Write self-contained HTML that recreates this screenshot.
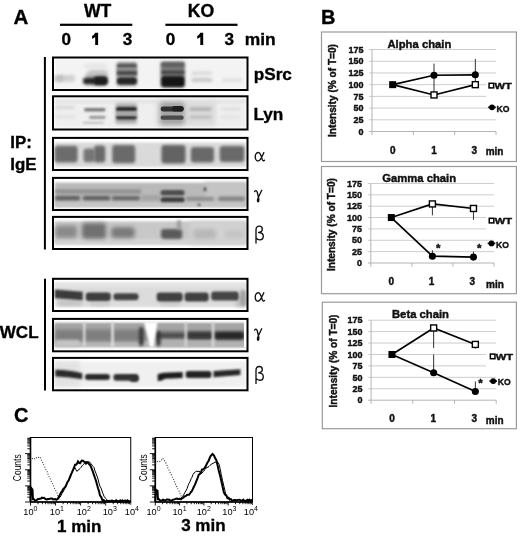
<!DOCTYPE html>
<html><head><meta charset="utf-8"><style>
html,body{margin:0;padding:0;background:#fff;width:520px;height:536px;overflow:hidden}
svg{display:block;will-change:transform}
text{font-family:"Liberation Sans",sans-serif}
.b{font-weight:bold}
.ct text,text.ct{stroke:#111;stroke-width:0.42px}
.hv text,text.hv{stroke:#000;stroke-width:0.35px}
text.g,.g text{font-family:"Liberation Serif",serif}
</style></head><body>
<svg width="520" height="536" viewBox="0 0 520 536">
<defs>
<filter id="f1" x="-30%" y="-60%" width="160%" height="220%"><feGaussianBlur stdDeviation="1.2"/></filter>
<filter id="f2" x="-30%" y="-60%" width="160%" height="220%"><feGaussianBlur stdDeviation="2"/></filter>
<filter id="f3" x="-10%" y="-30%" width="120%" height="160%"><feGaussianBlur stdDeviation="1"/></filter>
<filter id="fs" x="-5%" y="-5%" width="110%" height="110%"><feGaussianBlur stdDeviation="0.4"/></filter>
<filter id="b5" filterUnits="userSpaceOnUse" x="0" y="0" width="520" height="536"><feGaussianBlur stdDeviation="0.6"/></filter>
<filter id="b8" filterUnits="userSpaceOnUse" x="0" y="0" width="520" height="536"><feGaussianBlur stdDeviation="0.9"/></filter>
<filter id="b10" filterUnits="userSpaceOnUse" x="0" y="0" width="520" height="536"><feGaussianBlur stdDeviation="1.1"/></filter>
<filter id="b12" filterUnits="userSpaceOnUse" x="0" y="0" width="520" height="536"><feGaussianBlur stdDeviation="1.3"/></filter>
<filter id="b13" filterUnits="userSpaceOnUse" x="0" y="0" width="520" height="536"><feGaussianBlur stdDeviation="1.4"/></filter>
<filter id="b15" filterUnits="userSpaceOnUse" x="0" y="0" width="520" height="536"><feGaussianBlur stdDeviation="1.6"/></filter>
<filter id="b16" filterUnits="userSpaceOnUse" x="0" y="0" width="520" height="536"><feGaussianBlur stdDeviation="1.7"/></filter>
<filter id="b18" filterUnits="userSpaceOnUse" x="0" y="0" width="520" height="536"><feGaussianBlur stdDeviation="1.9"/></filter>
<filter id="b20" filterUnits="userSpaceOnUse" x="0" y="0" width="520" height="536"><feGaussianBlur stdDeviation="2.1"/></filter>
<filter id="b25" filterUnits="userSpaceOnUse" x="0" y="0" width="520" height="536"><feGaussianBlur stdDeviation="2.6"/></filter>
</defs>
<g class="hv"><text x="13.5" y="24" class="b" font-size="20.5">A</text>
<text x="97.7" y="17.3" class="b" font-size="17.6" text-anchor="middle">WT</text>
<text x="201" y="17.3" class="b" font-size="17.6" text-anchor="middle">KO</text>
<rect x="60" y="23.7" width="72.3" height="2.2" fill="#000"/>
<rect x="165.4" y="23.7" width="72.1" height="2.2" fill="#000"/>
<g class="b" font-size="17.1" text-anchor="middle">
<text x="66.2" y="45.2">0</text>
<text x="127.4" y="45.2">3</text>
<text x="170.5" y="45.2">0</text>
<text x="229.3" y="45.2">3</text>
</g>
<path d="M95.2,32.8 L98.1,32.8 L98.1,45.1 L95.2,45.1 L95.2,36.9 Q94,38 92.1,38.7 L92.1,36 Q94.3,35 95.2,32.8 Z" fill="#000"/>
<path d="M95.2,32.8 L98.1,32.8 L98.1,45.1 L95.2,45.1 L95.2,36.9 Q94,38 92.1,38.7 L92.1,36 Q94.3,35 95.2,32.8 Z" transform="translate(105.1,0)" fill="#000"/>
<text x="244.8" y="45.2" class="b" font-size="17.4">min</text>
<rect x="43.9" y="57" width="2" height="192.5" fill="#000"/>
<rect x="44" y="278.75" width="2" height="111.75" fill="#000"/>
<text x="10.3" y="147.9" class="b" font-size="16.9">IP:</text>
<text x="10.3" y="169.6" class="b" font-size="16.9">IgE</text>
<text x="-0.2" y="338.3" class="b" font-size="17">WCL</text>
<rect x="55" y="59" width="191" height="29.5" rx="0" fill="#f3f3f3" filter="url(#b10)"/>
<rect x="55" y="75" width="20" height="7" rx="3" fill="#d2d2d2" filter="url(#b16)"/>
<rect x="55" y="75.5" width="9" height="6" rx="3" fill="#c0c0c0" filter="url(#b16)"/>
<rect x="88" y="70" width="19.5" height="8" rx="3" fill="#c2c2c2" filter="url(#b18)"/>
<rect x="86" y="72.4" width="21" height="5.1" rx="2.55" fill="#c4c4c4" filter="url(#b16)"/>
<rect x="84" y="63.8" width="23" height="4.2" rx="2.1" fill="#e6e6e6" filter="url(#b16)"/>
<rect x="83" y="77.6" width="24.4" height="6.9" rx="3" fill="#252525" filter="url(#b13)"/>
<rect x="94" y="76.5" width="13.4" height="8.5" rx="3" fill="#1a1a1a" filter="url(#b13)"/>
<rect x="116.5" y="62" width="20.5" height="24" rx="2" fill="#a0a0a0" filter="url(#b13)"/>
<rect x="117" y="63.8" width="19.8" height="4.3" rx="2.15" fill="#5a5a5a" filter="url(#b10)"/>
<rect x="117" y="68" width="19.8" height="9" rx="3" fill="#8a8a8a" filter="url(#b10)"/>
<rect x="117" y="71.2" width="19.8" height="3.5" rx="1.75" fill="#444" filter="url(#b10)"/>
<rect x="117" y="77.6" width="19.8" height="6.9" rx="3" fill="#262626" filter="url(#b10)"/>
<rect x="160.5" y="61.5" width="24.5" height="26" rx="2" fill="#7a7a7a" filter="url(#b13)"/>
<rect x="161.5" y="62.7" width="22.7" height="4.3" rx="2.15" fill="#606060" filter="url(#b10)"/>
<rect x="161.5" y="70.4" width="22.7" height="3.9" rx="1.95" fill="#4a4a4a" filter="url(#b10)"/>
<rect x="161.5" y="76.2" width="22.7" height="10.6" rx="3" fill="#151515" filter="url(#b10)"/>
<rect x="191.3" y="71.5" width="21.2" height="3.5" rx="1.75" fill="#dadada" filter="url(#b13)"/>
<rect x="191.3" y="78" width="21.2" height="4" rx="2" fill="#c8c8c8" filter="url(#b13)"/>
<rect x="222" y="78" width="20.3" height="4" rx="2" fill="#e2e2e2" filter="url(#b13)"/>
<rect x="55" y="98.5" width="191" height="29" rx="0" fill="#efefef" filter="url(#b10)"/>
<rect x="55" y="100" width="191" height="3" rx="0" fill="#e2e2e2" filter="url(#b16)"/>
<rect x="156" y="101" width="60" height="25" rx="3" fill="#dcdcdc" filter="url(#b20)"/>
<rect x="55" y="106.3" width="20" height="2.4" rx="1.2" fill="#d2d2d2" filter="url(#b13)"/>
<rect x="55" y="115.4" width="20" height="2.4" rx="1.2" fill="#dcdcdc" filter="url(#b13)"/>
<rect x="84" y="108" width="21.6" height="3.4" rx="1.7" fill="#7a7a7a" filter="url(#b10)"/>
<rect x="89" y="115.8" width="16.6" height="3.1" rx="1.55" fill="#9c9c9c" filter="url(#b10)"/>
<rect x="83" y="122" width="21" height="1.6" rx="0.8" fill="#b0b0b0" filter="url(#b8)"/>
<rect x="115.5" y="103" width="21.5" height="21" rx="2" fill="#b4b4b4" filter="url(#b16)"/>
<rect x="116" y="107.1" width="20.8" height="4.3" rx="2.15" fill="#252525" filter="url(#b10)"/>
<rect x="116" y="115.4" width="20.8" height="4.2" rx="2.1" fill="#333" filter="url(#b10)"/>
<rect x="116" y="111.4" width="20.8" height="4" rx="2" fill="#a8a8a8" filter="url(#b10)"/>
<rect x="160" y="102" width="24.5" height="23" rx="3" fill="#a4a4a4" filter="url(#b18)"/>
<rect x="160.6" y="106.6" width="23.1" height="4.8" rx="2.4" fill="#303030" filter="url(#b11)"/>
<rect x="172" y="106" width="11.7" height="5.6" rx="2.8" fill="#1e1e1e" filter="url(#b11)"/>
<rect x="160.6" y="115.6" width="23.1" height="4.2" rx="2.1" fill="#4a4a4a" filter="url(#b11)"/>
<rect x="189.4" y="107.5" width="22.1" height="3.3" rx="1.65" fill="#acacac" filter="url(#b13)"/>
<rect x="189.4" y="115.5" width="22.1" height="3.3" rx="1.65" fill="#bcbcbc" filter="url(#b13)"/>
<rect x="221" y="107.5" width="20" height="3" rx="1.5" fill="#dcdcdc" filter="url(#b13)"/>
<rect x="221" y="115.5" width="20" height="3" rx="1.5" fill="#e0e0e0" filter="url(#b13)"/>
<rect x="55" y="142.5" width="191" height="24.5" rx="0" fill="#dadada" filter="url(#b10)"/>
<rect x="54.6" y="145.8" width="23" height="16.8" rx="3" fill="#6c6c6c" filter="url(#b16)"/>
<rect x="83.5" y="148.5" width="11.5" height="13.7" rx="3" fill="#767676" filter="url(#b16)"/>
<rect x="94" y="145.5" width="11.3" height="17.1" rx="3" fill="#6a6a6a" filter="url(#b16)"/>
<rect x="112.2" y="145" width="23" height="18.3" rx="3" fill="#6a6a6a" filter="url(#b16)"/>
<rect x="161.4" y="145" width="24.1" height="18.4" rx="3" fill="#646464" filter="url(#b16)"/>
<rect x="190.8" y="147" width="23.2" height="15.6" rx="3" fill="#696969" filter="url(#b16)"/>
<rect x="219.7" y="146" width="24.6" height="16" rx="3" fill="#696969" filter="url(#b16)"/>
<rect x="55" y="182.6" width="191" height="24.2" rx="0" fill="#b9b9b9" filter="url(#b10)"/>
<rect x="55" y="201" width="191" height="5.8" rx="0" fill="#c6c6c6" filter="url(#b13)"/>
<rect x="205" y="182.6" width="41" height="17.4" rx="0" fill="#c4c4c4" filter="url(#b20)"/>
<rect x="55" y="189.5" width="86" height="4" rx="1" fill="#8c8c8c" filter="url(#b16)"/>
<rect x="55" y="196" width="25" height="4.3" rx="1" fill="#5a5a5a" filter="url(#b13)"/>
<rect x="83" y="196" width="27" height="4.3" rx="1" fill="#585858" filter="url(#b13)"/>
<rect x="112" y="196.2" width="28" height="4.1" rx="1" fill="#5e5e5e" filter="url(#b13)"/>
<rect x="141" y="195" width="19" height="6" rx="1" fill="#a4a4a4" filter="url(#b16)"/>
<rect x="160.6" y="189.9" width="24" height="5.6" rx="2.8" fill="#4e4e4e" filter="url(#b12)"/>
<rect x="160.6" y="197.2" width="24" height="5.1" rx="2.55" fill="#3e3e3e" filter="url(#b12)"/>
<rect x="186" y="197" width="28" height="3.8" rx="1.9" fill="#8a8a8a" filter="url(#b13)"/>
<rect x="218" y="196.8" width="27" height="4" rx="2" fill="#7c7c7c" filter="url(#b13)"/>
<rect x="203.5" y="187" width="3" height="4.5" rx="2.25" fill="#555" filter="url(#b8)"/>
<rect x="197.5" y="203.5" width="3" height="2.5" rx="1.25" fill="#555" filter="url(#b8)"/>
<rect x="55" y="221.3" width="191" height="23" rx="0" fill="#c8c8c8" filter="url(#b10)"/>
<rect x="55" y="239" width="191" height="5.3" rx="0" fill="#d4d4d4" filter="url(#b13)"/>
<rect x="190" y="221.3" width="56" height="23" rx="0" fill="#d2d2d2" filter="url(#b20)"/>
<rect x="55" y="225.5" width="22" height="12.5" rx="3" fill="#8a8a8a" filter="url(#b18)"/>
<rect x="82" y="223" width="24" height="15.8" rx="3" fill="#707070" filter="url(#b18)"/>
<rect x="111.2" y="227" width="23.5" height="11" rx="3" fill="#7a7a7a" filter="url(#b18)"/>
<rect x="161" y="229" width="21.2" height="10" rx="3" fill="#5a5a5a" filter="url(#b15)"/>
<rect x="177" y="220" width="4" height="10" rx="3" fill="#9a9a9a" filter="url(#b13)"/>
<rect x="193" y="229" width="23" height="10" rx="3" fill="#b8b8b8" filter="url(#b18)"/>
<rect x="225" y="230" width="18" height="8" rx="3" fill="#c4c4c4" filter="url(#b18)"/>
<rect x="55" y="282.9" width="191" height="24.2" rx="0" fill="#dcdcdc" filter="url(#b10)"/>
<rect x="55" y="282.9" width="191" height="4.1" rx="0" fill="#e6e6e6" filter="url(#b13)"/>
<rect x="58" y="300" width="24" height="6" rx="3" fill="#c4c4c4" filter="url(#b16)"/>
<rect x="90" y="301" width="20" height="5" rx="2.5" fill="#cacaca" filter="url(#b16)"/>
<rect x="160" y="300" width="20" height="6" rx="3" fill="#cccccc" filter="url(#b16)"/>
<rect x="235" y="296" width="11" height="11" rx="3" fill="#c8c8c8" filter="url(#b16)"/>
<path d="M54.8,289.6 L82.8,291.8 L82.8,300.2 L54.8,298.2 Z" fill="#3a3a3a" filter="url(#b10)"/>
<rect x="85.7" y="292.6" width="25.1" height="8.3" rx="3" fill="#3e3e3e" filter="url(#b10)"/>
<rect x="113.4" y="293.2" width="25.1" height="7.1" rx="3" fill="#434343" filter="url(#b10)"/>
<rect x="156.7" y="292.6" width="26" height="9" rx="3" fill="#404040" filter="url(#b10)"/>
<rect x="184.6" y="292.6" width="24.1" height="9" rx="3" fill="#404040" filter="url(#b10)"/>
<rect x="211.2" y="291.6" width="27.6" height="9" rx="3" fill="#444" filter="url(#b10)"/>
<rect x="240" y="290" width="6" height="16" rx="3" fill="#a0a0a0" filter="url(#b13)"/>
<rect x="55" y="323.5" width="191" height="23" rx="0" fill="#989898" filter="url(#b8)"/>
<rect x="55" y="323.5" width="191" height="6.5" rx="0" fill="#a6a6a6" filter="url(#b13)"/>
<rect x="55" y="341" width="191" height="5.5" rx="0" fill="#bcbcbc" filter="url(#b13)"/>
<rect x="55" y="330" width="89" height="11" rx="1" fill="#7e7e7e" filter="url(#b20)"/>
<rect x="157" y="331.5" width="87" height="7.5" rx="1" fill="#6e6e6e" filter="url(#b16)"/>
<rect x="55" y="340" width="25" height="6.5" rx="3" fill="#c4c4c4" filter="url(#b16)"/>
<rect x="156" y="340" width="88" height="6.5" rx="1" fill="#b0b0b0" filter="url(#b16)"/>
<rect x="187" y="332" width="26" height="7" rx="3" fill="#383838" filter="url(#b13)"/>
<rect x="214.4" y="332" width="29.6" height="7.5" rx="3" fill="#262626" filter="url(#b13)"/>
<rect x="156.7" y="333.5" width="28.3" height="4" rx="2" fill="#505050" filter="url(#b10)"/>
<rect x="156.5" y="331" width="4" height="15" rx="3" fill="#303030" filter="url(#b13)"/>
<rect x="139" y="327" width="4.5" height="19" rx="3" fill="#3a3a3a" filter="url(#b13)"/>
<path d="M83.1,322 L85.4,322 L85.4,347 L83.1,347 Z" fill="#dedede" filter="url(#b8)"/>
<path d="M111.2,322 L113.9,322 L113.9,347 L111.2,347 Z" fill="#dedede" filter="url(#b8)"/>
<path d="M144,322 L157.5,322 L153.5,347 L150,347 Z" fill="#fff" filter="url(#b8)"/>
<path d="M184.8,322 L186.9,322 L186.9,347 L184.8,347 Z" fill="#dadada" filter="url(#b8)"/>
<path d="M211.8,322 L214.2,322 L214.2,347 L211.8,347 Z" fill="#dadada" filter="url(#b8)"/>
<path d="M244,322 L247,322 L247,347 L244,347 Z" fill="#fff" filter="url(#b5)"/>
<rect x="55" y="361.5" width="191" height="25.5" rx="0" fill="#f0f0f0" filter="url(#b10)"/>
<rect x="55" y="361.5" width="25" height="25.5" rx="0" fill="#e2e2e2" filter="url(#b20)"/>
<path d="M55.3,369.8 Q70,370.2 82.3,373.2 L82.3,379.2 Q70,376.8 55.3,376.4 Z" fill="#2a2a2a" filter="url(#b10)"/>
<rect x="84.9" y="374.1" width="25.1" height="5.9" rx="2.95" fill="#2c2c2c" filter="url(#b10)"/>
<rect x="113.4" y="374.1" width="25.1" height="6.7" rx="3" fill="#303030" filter="url(#b10)"/>
<rect x="130" y="376" width="8.5" height="5.8" rx="2.9" fill="#303030" filter="url(#b10)"/>
<path d="M157.7,374.2 Q160,372.7 170,372.4 L182.7,371.9 L182.7,377.9 L165,378.8 Q160,381.8 157.7,380.8 Z" fill="#1c1c1c" filter="url(#b10)"/>
<rect x="185.6" y="371.1" width="25.9" height="6.8" rx="3" fill="#222" filter="url(#b10)"/>
<path d="M213.5,371.1 L240.4,369.2 L240.4,375 L213.5,377.3 Z" fill="#262626" filter="url(#b10)"/>
<rect x="53" y="57.5" width="194.5" height="32.5" fill="none" stroke="#000" stroke-width="2"/>
<rect x="53" y="96.3" width="194.5" height="33.2" fill="none" stroke="#000" stroke-width="2"/>
<rect x="53" y="137.9" width="194.5" height="32.1" fill="none" stroke="#000" stroke-width="2"/>
<rect x="53" y="177.9" width="194.5" height="32.1" fill="none" stroke="#000" stroke-width="2"/>
<rect x="53" y="216.9" width="194.5" height="32.1" fill="none" stroke="#000" stroke-width="2"/>
<rect x="53" y="278.8" width="194.5" height="32.2" fill="none" stroke="#000" stroke-width="2"/>
<rect x="53" y="318.9" width="194.5" height="32.4" fill="none" stroke="#000" stroke-width="2"/>
<rect x="53" y="357.9" width="194.5" height="32.4" fill="none" stroke="#000" stroke-width="2"/>
<g class="b" font-size="17.2"><text x="253.7" y="79.9">pSrc</text><text x="253.4" y="119.6">Lyn</text></g>
<path d="M263.8,152.6 C262.6,155.2 261.4,158.6 259.5,160.2 C257.5,161.8 255.2,160.6 255.2,156.7 C255.2,153.2 257.4,152.2 258.8,152.6 C261,153.3 261.6,158 262.4,159.8 C263,161 263.8,161 264.5,160.3" transform="translate(0,0)" fill="none" stroke="#111" stroke-width="1.35" stroke-linecap="round" stroke-linejoin="round"/>
<path d="M254.6,191.6 Q256,189.6 257.2,192 L258.4,197.2 M261.7,190.3 L258.4,197.2 C257.6,199 257.2,201.5 258.1,201.9 C258.9,201.9 259.1,199 258.4,197.2" transform="translate(0,0)" fill="none" stroke="#111" stroke-width="1.35" stroke-linecap="round" stroke-linejoin="round"/>
<path d="M256,243 L256,230 C256,227.2 257.7,226.1 259.3,226.1 C261.3,226.1 262.3,227.5 262.3,229.2 C262.3,231.3 260.7,232.3 258.6,232.5 C261.8,232.6 263.3,234.2 263.3,236.3 C263.3,238.6 261.8,239.8 259.8,239.8 C258.2,239.8 256.9,239 256,238" transform="translate(0,0)" fill="none" stroke="#111" stroke-width="1.35" stroke-linecap="round" stroke-linejoin="round"/>
<path d="M263.8,152.6 C262.6,155.2 261.4,158.6 259.5,160.2 C257.5,161.8 255.2,160.6 255.2,156.7 C255.2,153.2 257.4,152.2 258.8,152.6 C261,153.3 261.6,158 262.4,159.8 C263,161 263.8,161 264.5,160.3" transform="translate(0,140.2)" fill="none" stroke="#111" stroke-width="1.35" stroke-linecap="round" stroke-linejoin="round"/>
<path d="M254.6,191.6 Q256,189.6 257.2,192 L258.4,197.2 M261.7,190.3 L258.4,197.2 C257.6,199 257.2,201.5 258.1,201.9 C258.9,201.9 259.1,199 258.4,197.2" transform="translate(0,138.5)" fill="none" stroke="#111" stroke-width="1.35" stroke-linecap="round" stroke-linejoin="round"/>
<path d="M256,243 L256,230 C256,227.2 257.7,226.1 259.3,226.1 C261.3,226.1 262.3,227.5 262.3,229.2 C262.3,231.3 260.7,232.3 258.6,232.5 C261.8,232.6 263.3,234.2 263.3,236.3 C263.3,238.6 261.8,239.8 259.8,239.8 C258.2,239.8 256.9,239 256,238" transform="translate(0,140.4)" fill="none" stroke="#111" stroke-width="1.35" stroke-linecap="round" stroke-linejoin="round"/>
<text x="321" y="24" class="b" font-size="20">B</text>
</g>
<g class="ct">
<rect x="321.5" y="32" width="194.9" height="129.5" fill="#fff" stroke="#9a9a9a" stroke-width="1.2"/>
<line x1="369" y1="119.79" x2="496" y2="119.79" stroke="#cdcdcd" stroke-width="1"/>
<line x1="369" y1="108.08" x2="496" y2="108.08" stroke="#cdcdcd" stroke-width="1"/>
<line x1="369" y1="96.37" x2="486" y2="96.37" stroke="#cdcdcd" stroke-width="1"/>
<line x1="369" y1="84.66" x2="486" y2="84.66" stroke="#cdcdcd" stroke-width="1"/>
<line x1="369" y1="72.95" x2="496" y2="72.95" stroke="#cdcdcd" stroke-width="1"/>
<line x1="369" y1="61.24" x2="496" y2="61.24" stroke="#cdcdcd" stroke-width="1"/>
<line x1="369" y1="49.53" x2="496" y2="49.53" stroke="#cdcdcd" stroke-width="1"/>
<line x1="372" y1="49.53" x2="372" y2="131.5" stroke="#b4b4b4" stroke-width="1"/>
<line x1="369" y1="131.5" x2="496" y2="131.5" stroke="#b4b4b4" stroke-width="1"/>
<line x1="372" y1="131.5" x2="372" y2="135" stroke="#b4b4b4" stroke-width="1"/>
<line x1="413.33" y1="131.5" x2="413.33" y2="135" stroke="#b4b4b4" stroke-width="1"/>
<line x1="454.67" y1="131.5" x2="454.67" y2="135" stroke="#b4b4b4" stroke-width="1"/>
<line x1="496" y1="131.5" x2="496" y2="135" stroke="#b4b4b4" stroke-width="1"/>
<g class="b" font-size="9" text-anchor="end" fill="#111">
<text x="363.5" y="134.7">0</text>
<text x="363.5" y="122.99">25</text>
<text x="363.5" y="111.28">50</text>
<text x="363.5" y="99.57">75</text>
<text x="363.5" y="87.86">100</text>
<text x="363.5" y="76.15">125</text>
<text x="363.5" y="64.44">150</text>
<text x="363.5" y="52.73">175</text>
</g>
<text transform="translate(335.6,90.5) rotate(-90) scale(1.012,1)" class="b" font-size="10" text-anchor="middle" fill="#111">Intensity (% of T=0)</text>
<text x="387.5" y="47.5" class="b" font-size="11.25" fill="#111">Alpha chain</text>
<g class="b" font-size="10" text-anchor="middle" fill="#111">
<text x="392.87" y="153.6">0</text>
<text x="434.1" y="153.6">1</text>
<text x="474.23" y="153.6">3</text>
</g>
<text x="485.7" y="155" class="b" font-size="10" fill="#111">min</text>
<line x1="434" y1="63.58" x2="434" y2="94.96" stroke="#333" stroke-width="1"/>
<line x1="475.33" y1="58.9" x2="475.33" y2="84.66" stroke="#333" stroke-width="1"/>
<polyline points="392.67,84.66 434,94.96 475.33,84.66" fill="none" stroke="#000" stroke-width="1.65"/>
<polyline points="392.67,84.66 434,75.29 475.33,74.82" fill="none" stroke="#000" stroke-width="1.65"/>
<circle cx="434" cy="75.29" r="3.55" fill="#000"/>
<circle cx="475.33" cy="74.82" r="3.55" fill="#000"/>
<rect x="431" y="91.96" width="6" height="6" fill="#fff" stroke="#000" stroke-width="1.4"/>
<rect x="472.33" y="81.66" width="6" height="6" fill="#fff" stroke="#000" stroke-width="1.4"/>
<rect x="389.17" y="81.16" width="7" height="7" fill="#000"/>
<rect x="489.05" y="83.3" width="4.6" height="4.6" fill="#fff" stroke="#000" stroke-width="1.5"/>
<text x="494.45" y="89.3" class="b" font-size="9.6" fill="#111" textLength="17.3" lengthAdjust="spacingAndGlyphs">WT</text>
<line x1="488.2" y1="107.3" x2="495.8" y2="107.3" stroke="#000" stroke-width="1.6"/>
<circle cx="492" cy="107.3" r="2.9" fill="#000"/>
<text x="496.5" y="111.5" class="b" font-size="9.6" fill="#111" textLength="12.9" lengthAdjust="spacingAndGlyphs">KO</text>
</g>
<g class="ct">
<rect x="321.5" y="166.5" width="194.9" height="127.2" fill="#fff" stroke="#9a9a9a" stroke-width="1.2"/>
<line x1="367.8" y1="251.64" x2="494" y2="251.64" stroke="#cdcdcd" stroke-width="1"/>
<line x1="367.8" y1="240.28" x2="494" y2="240.28" stroke="#cdcdcd" stroke-width="1"/>
<line x1="367.8" y1="228.92" x2="486" y2="228.92" stroke="#cdcdcd" stroke-width="1"/>
<line x1="367.8" y1="217.56" x2="486" y2="217.56" stroke="#cdcdcd" stroke-width="1"/>
<line x1="367.8" y1="206.2" x2="494" y2="206.2" stroke="#cdcdcd" stroke-width="1"/>
<line x1="367.8" y1="194.84" x2="494" y2="194.84" stroke="#cdcdcd" stroke-width="1"/>
<line x1="367.8" y1="183.48" x2="494" y2="183.48" stroke="#cdcdcd" stroke-width="1"/>
<line x1="370.8" y1="183.48" x2="370.8" y2="263" stroke="#b4b4b4" stroke-width="1"/>
<line x1="367.8" y1="263" x2="494" y2="263" stroke="#b4b4b4" stroke-width="1"/>
<line x1="370.8" y1="263" x2="370.8" y2="266.5" stroke="#b4b4b4" stroke-width="1"/>
<line x1="411.87" y1="263" x2="411.87" y2="266.5" stroke="#b4b4b4" stroke-width="1"/>
<line x1="452.93" y1="263" x2="452.93" y2="266.5" stroke="#b4b4b4" stroke-width="1"/>
<line x1="494" y1="263" x2="494" y2="266.5" stroke="#b4b4b4" stroke-width="1"/>
<g class="b" font-size="9" text-anchor="end" fill="#111">
<text x="362" y="266.2">0</text>
<text x="362" y="254.84">25</text>
<text x="362" y="243.48">50</text>
<text x="362" y="232.12">75</text>
<text x="362" y="220.76">100</text>
<text x="362" y="209.4">125</text>
<text x="362" y="198.04">150</text>
<text x="362" y="186.68">175</text>
</g>
<text transform="translate(334.9,224.6) rotate(-90) scale(1.012,1)" class="b" font-size="10" text-anchor="middle" fill="#111">Intensity (% of T=0)</text>
<text x="382.3" y="181.8" class="b" font-size="11.25" fill="#111">Gamma chain</text>
<g class="b" font-size="10" text-anchor="middle" fill="#111">
<text x="391.33" y="285.4">0</text>
<text x="431.5" y="285.4">1</text>
<text x="472.17" y="285.4">3</text>
</g>
<text x="486" y="288.4" class="b" font-size="10" fill="#111">min</text>
<line x1="432.4" y1="203.93" x2="432.4" y2="215.29" stroke="#333" stroke-width="1"/>
<line x1="473.47" y1="208.47" x2="473.47" y2="219.83" stroke="#333" stroke-width="1"/>
<line x1="432.4" y1="256.18" x2="432.4" y2="250.28" stroke="#333" stroke-width="1"/>
<line x1="473.47" y1="257.09" x2="473.47" y2="251.64" stroke="#333" stroke-width="1"/>
<polyline points="391.33,217.56 432.4,203.93 473.47,208.47" fill="none" stroke="#000" stroke-width="1.65"/>
<polyline points="391.33,217.56 432.4,256.18 473.47,257.09" fill="none" stroke="#000" stroke-width="1.65"/>
<circle cx="432.4" cy="256.18" r="3.55" fill="#000"/>
<circle cx="473.47" cy="257.09" r="3.55" fill="#000"/>
<rect x="429.4" y="200.93" width="6" height="6" fill="#fff" stroke="#000" stroke-width="1.4"/>
<rect x="470.47" y="205.47" width="6" height="6" fill="#fff" stroke="#000" stroke-width="1.4"/>
<rect x="387.83" y="214.06" width="7" height="7" fill="#000"/>
<text x="438.2" y="251.5" class="b" font-size="11.5" text-anchor="middle" fill="#111">*</text>
<text x="479.2" y="252.3" class="b" font-size="11.5" text-anchor="middle" fill="#111">*</text>
<rect x="489.25" y="218.3" width="4.6" height="4.6" fill="#fff" stroke="#000" stroke-width="1.5"/>
<text x="494.65" y="224.3" class="b" font-size="9.6" fill="#111" textLength="17.3" lengthAdjust="spacingAndGlyphs">WT</text>
<line x1="487.7" y1="243.4" x2="495.3" y2="243.4" stroke="#000" stroke-width="1.6"/>
<circle cx="491.5" cy="243.4" r="2.9" fill="#000"/>
<text x="496" y="247.6" class="b" font-size="9.6" fill="#111" textLength="12.9" lengthAdjust="spacingAndGlyphs">KO</text>
</g>
<g class="ct">
<rect x="322.3" y="302.2" width="194.1" height="126.5" fill="#fff" stroke="#9a9a9a" stroke-width="1.2"/>
<line x1="368.1" y1="388.77" x2="496.2" y2="388.77" stroke="#cdcdcd" stroke-width="1"/>
<line x1="368.1" y1="377.34" x2="496.2" y2="377.34" stroke="#cdcdcd" stroke-width="1"/>
<line x1="368.1" y1="365.91" x2="486" y2="365.91" stroke="#cdcdcd" stroke-width="1"/>
<line x1="368.1" y1="354.48" x2="486" y2="354.48" stroke="#cdcdcd" stroke-width="1"/>
<line x1="368.1" y1="343.05" x2="496.2" y2="343.05" stroke="#cdcdcd" stroke-width="1"/>
<line x1="368.1" y1="331.62" x2="496.2" y2="331.62" stroke="#cdcdcd" stroke-width="1"/>
<line x1="368.1" y1="320.19" x2="496.2" y2="320.19" stroke="#cdcdcd" stroke-width="1"/>
<line x1="371.1" y1="320.19" x2="371.1" y2="400.2" stroke="#b4b4b4" stroke-width="1"/>
<line x1="368.1" y1="400.2" x2="496.2" y2="400.2" stroke="#b4b4b4" stroke-width="1"/>
<line x1="371.1" y1="400.2" x2="371.1" y2="403.7" stroke="#b4b4b4" stroke-width="1"/>
<line x1="412.8" y1="400.2" x2="412.8" y2="403.7" stroke="#b4b4b4" stroke-width="1"/>
<line x1="454.5" y1="400.2" x2="454.5" y2="403.7" stroke="#b4b4b4" stroke-width="1"/>
<line x1="496.2" y1="400.2" x2="496.2" y2="403.7" stroke="#b4b4b4" stroke-width="1"/>
<g class="b" font-size="9" text-anchor="end" fill="#111">
<text x="362.5" y="403.4">0</text>
<text x="362.5" y="391.97">25</text>
<text x="362.5" y="380.54">50</text>
<text x="362.5" y="369.11">75</text>
<text x="362.5" y="357.68">100</text>
<text x="362.5" y="346.25">125</text>
<text x="362.5" y="334.82">150</text>
<text x="362.5" y="323.39">175</text>
</g>
<text transform="translate(336.6,361) rotate(-90) scale(1.012,1)" class="b" font-size="10" text-anchor="middle" fill="#111">Intensity (% of T=0)</text>
<text x="392" y="317.9" class="b" font-size="11.25" fill="#111">Beta chain</text>
<g class="b" font-size="10" text-anchor="middle" fill="#111">
<text x="392.05" y="422.3">0</text>
<text x="433.25" y="422.3">1</text>
<text x="474.25" y="422.3">3</text>
</g>
<text x="485.8" y="424.2" class="b" font-size="10" fill="#111">min</text>
<line x1="433.65" y1="327.96" x2="433.65" y2="348.08" stroke="#333" stroke-width="1"/>
<line x1="433.65" y1="354.48" x2="433.65" y2="372.77" stroke="#333" stroke-width="1"/>
<line x1="475.35" y1="344.42" x2="475.35" y2="348.54" stroke="#333" stroke-width="1"/>
<line x1="475.35" y1="391.51" x2="475.35" y2="381.45" stroke="#333" stroke-width="1"/>
<polyline points="391.95,354.48 433.65,327.96 475.35,344.42" fill="none" stroke="#000" stroke-width="1.65"/>
<polyline points="391.95,354.48 433.65,372.77 475.35,391.51" fill="none" stroke="#000" stroke-width="1.65"/>
<circle cx="433.65" cy="372.77" r="3.55" fill="#000"/>
<circle cx="475.35" cy="391.51" r="3.55" fill="#000"/>
<rect x="430.65" y="324.96" width="6" height="6" fill="#fff" stroke="#000" stroke-width="1.4"/>
<rect x="472.35" y="341.42" width="6" height="6" fill="#fff" stroke="#000" stroke-width="1.4"/>
<rect x="388.45" y="350.98" width="7" height="7" fill="#000"/>
<text x="480.6" y="386.9" class="b" font-size="11.5" text-anchor="middle" fill="#111">*</text>
<rect x="490.35" y="354.1" width="4.6" height="4.6" fill="#fff" stroke="#000" stroke-width="1.5"/>
<text x="495.75" y="360.1" class="b" font-size="9.6" fill="#111" textLength="17.3" lengthAdjust="spacingAndGlyphs">WT</text>
<line x1="489.4" y1="381.1" x2="497" y2="381.1" stroke="#000" stroke-width="1.6"/>
<circle cx="493.2" cy="381.1" r="2.9" fill="#000"/>
<text x="497.7" y="385.3" class="b" font-size="9.6" fill="#111" textLength="12.9" lengthAdjust="spacingAndGlyphs">KO</text>
</g>
<text x="14" y="422.3" class="b hv" font-size="20">C</text>
<rect x="30.5" y="437.5" width="100.25" height="64.5" fill="none" stroke="#000" stroke-width="1"/>
<line x1="25" y1="502" x2="30.5" y2="502" stroke="#000" stroke-width="0.9"/>
<line x1="27.3" y1="497.15" x2="30.5" y2="497.15" stroke="#000" stroke-width="0.9"/>
<line x1="27.3" y1="494.31" x2="30.5" y2="494.31" stroke="#000" stroke-width="0.9"/>
<line x1="27.3" y1="492.29" x2="30.5" y2="492.29" stroke="#000" stroke-width="0.9"/>
<line x1="27.3" y1="490.73" x2="30.5" y2="490.73" stroke="#000" stroke-width="0.9"/>
<line x1="27.3" y1="489.45" x2="30.5" y2="489.45" stroke="#000" stroke-width="0.9"/>
<line x1="27.3" y1="488.37" x2="30.5" y2="488.37" stroke="#000" stroke-width="0.9"/>
<line x1="27.3" y1="487.44" x2="30.5" y2="487.44" stroke="#000" stroke-width="0.9"/>
<line x1="27.3" y1="486.61" x2="30.5" y2="486.61" stroke="#000" stroke-width="0.9"/>
<line x1="25" y1="485.88" x2="30.5" y2="485.88" stroke="#000" stroke-width="0.9"/>
<line x1="27.3" y1="481.02" x2="30.5" y2="481.02" stroke="#000" stroke-width="0.9"/>
<line x1="27.3" y1="478.18" x2="30.5" y2="478.18" stroke="#000" stroke-width="0.9"/>
<line x1="27.3" y1="476.17" x2="30.5" y2="476.17" stroke="#000" stroke-width="0.9"/>
<line x1="27.3" y1="474.6" x2="30.5" y2="474.6" stroke="#000" stroke-width="0.9"/>
<line x1="27.3" y1="473.33" x2="30.5" y2="473.33" stroke="#000" stroke-width="0.9"/>
<line x1="27.3" y1="472.25" x2="30.5" y2="472.25" stroke="#000" stroke-width="0.9"/>
<line x1="27.3" y1="471.31" x2="30.5" y2="471.31" stroke="#000" stroke-width="0.9"/>
<line x1="27.3" y1="470.49" x2="30.5" y2="470.49" stroke="#000" stroke-width="0.9"/>
<line x1="25" y1="469.75" x2="30.5" y2="469.75" stroke="#000" stroke-width="0.9"/>
<line x1="27.3" y1="464.9" x2="30.5" y2="464.9" stroke="#000" stroke-width="0.9"/>
<line x1="27.3" y1="462.06" x2="30.5" y2="462.06" stroke="#000" stroke-width="0.9"/>
<line x1="27.3" y1="460.04" x2="30.5" y2="460.04" stroke="#000" stroke-width="0.9"/>
<line x1="27.3" y1="458.48" x2="30.5" y2="458.48" stroke="#000" stroke-width="0.9"/>
<line x1="27.3" y1="457.2" x2="30.5" y2="457.2" stroke="#000" stroke-width="0.9"/>
<line x1="27.3" y1="456.12" x2="30.5" y2="456.12" stroke="#000" stroke-width="0.9"/>
<line x1="27.3" y1="455.19" x2="30.5" y2="455.19" stroke="#000" stroke-width="0.9"/>
<line x1="27.3" y1="454.36" x2="30.5" y2="454.36" stroke="#000" stroke-width="0.9"/>
<line x1="25" y1="453.62" x2="30.5" y2="453.62" stroke="#000" stroke-width="0.9"/>
<line x1="27.3" y1="448.77" x2="30.5" y2="448.77" stroke="#000" stroke-width="0.9"/>
<line x1="27.3" y1="445.93" x2="30.5" y2="445.93" stroke="#000" stroke-width="0.9"/>
<line x1="27.3" y1="443.92" x2="30.5" y2="443.92" stroke="#000" stroke-width="0.9"/>
<line x1="27.3" y1="442.35" x2="30.5" y2="442.35" stroke="#000" stroke-width="0.9"/>
<line x1="27.3" y1="441.08" x2="30.5" y2="441.08" stroke="#000" stroke-width="0.9"/>
<line x1="27.3" y1="440" x2="30.5" y2="440" stroke="#000" stroke-width="0.9"/>
<line x1="27.3" y1="439.06" x2="30.5" y2="439.06" stroke="#000" stroke-width="0.9"/>
<line x1="27.3" y1="438.24" x2="30.5" y2="438.24" stroke="#000" stroke-width="0.9"/>
<line x1="30.5" y1="502" x2="30.5" y2="505.5" stroke="#000" stroke-width="0.9"/>
<line x1="38.04" y1="502" x2="38.04" y2="504.2" stroke="#000" stroke-width="0.9"/>
<line x1="42.46" y1="502" x2="42.46" y2="504.2" stroke="#000" stroke-width="0.9"/>
<line x1="45.59" y1="502" x2="45.59" y2="504.2" stroke="#000" stroke-width="0.9"/>
<line x1="48.02" y1="502" x2="48.02" y2="504.2" stroke="#000" stroke-width="0.9"/>
<line x1="50" y1="502" x2="50" y2="504.2" stroke="#000" stroke-width="0.9"/>
<line x1="51.68" y1="502" x2="51.68" y2="504.2" stroke="#000" stroke-width="0.9"/>
<line x1="53.13" y1="502" x2="53.13" y2="504.2" stroke="#000" stroke-width="0.9"/>
<line x1="54.42" y1="502" x2="54.42" y2="504.2" stroke="#000" stroke-width="0.9"/>
<line x1="55.56" y1="502" x2="55.56" y2="505.5" stroke="#000" stroke-width="0.9"/>
<line x1="63.11" y1="502" x2="63.11" y2="504.2" stroke="#000" stroke-width="0.9"/>
<line x1="67.52" y1="502" x2="67.52" y2="504.2" stroke="#000" stroke-width="0.9"/>
<line x1="70.65" y1="502" x2="70.65" y2="504.2" stroke="#000" stroke-width="0.9"/>
<line x1="73.08" y1="502" x2="73.08" y2="504.2" stroke="#000" stroke-width="0.9"/>
<line x1="75.06" y1="502" x2="75.06" y2="504.2" stroke="#000" stroke-width="0.9"/>
<line x1="76.74" y1="502" x2="76.74" y2="504.2" stroke="#000" stroke-width="0.9"/>
<line x1="78.2" y1="502" x2="78.2" y2="504.2" stroke="#000" stroke-width="0.9"/>
<line x1="79.48" y1="502" x2="79.48" y2="504.2" stroke="#000" stroke-width="0.9"/>
<line x1="80.62" y1="502" x2="80.62" y2="505.5" stroke="#000" stroke-width="0.9"/>
<line x1="88.17" y1="502" x2="88.17" y2="504.2" stroke="#000" stroke-width="0.9"/>
<line x1="92.58" y1="502" x2="92.58" y2="504.2" stroke="#000" stroke-width="0.9"/>
<line x1="95.71" y1="502" x2="95.71" y2="504.2" stroke="#000" stroke-width="0.9"/>
<line x1="98.14" y1="502" x2="98.14" y2="504.2" stroke="#000" stroke-width="0.9"/>
<line x1="100.13" y1="502" x2="100.13" y2="504.2" stroke="#000" stroke-width="0.9"/>
<line x1="101.81" y1="502" x2="101.81" y2="504.2" stroke="#000" stroke-width="0.9"/>
<line x1="103.26" y1="502" x2="103.26" y2="504.2" stroke="#000" stroke-width="0.9"/>
<line x1="104.54" y1="502" x2="104.54" y2="504.2" stroke="#000" stroke-width="0.9"/>
<line x1="105.69" y1="502" x2="105.69" y2="505.5" stroke="#000" stroke-width="0.9"/>
<line x1="113.23" y1="502" x2="113.23" y2="504.2" stroke="#000" stroke-width="0.9"/>
<line x1="117.65" y1="502" x2="117.65" y2="504.2" stroke="#000" stroke-width="0.9"/>
<line x1="120.78" y1="502" x2="120.78" y2="504.2" stroke="#000" stroke-width="0.9"/>
<line x1="123.21" y1="502" x2="123.21" y2="504.2" stroke="#000" stroke-width="0.9"/>
<line x1="125.19" y1="502" x2="125.19" y2="504.2" stroke="#000" stroke-width="0.9"/>
<line x1="126.87" y1="502" x2="126.87" y2="504.2" stroke="#000" stroke-width="0.9"/>
<line x1="128.32" y1="502" x2="128.32" y2="504.2" stroke="#000" stroke-width="0.9"/>
<line x1="129.6" y1="502" x2="129.6" y2="504.2" stroke="#000" stroke-width="0.9"/>
<line x1="130.75" y1="502" x2="130.75" y2="505" stroke="#000" stroke-width="0.7"/>
<line x1="30.5" y1="437.5" x2="30.5" y2="502.5" stroke="#000" stroke-width="1.6"/>
<line x1="30.5" y1="502" x2="130.75" y2="502" stroke="#000" stroke-width="1.3"/>
<text x="23.3" y="514.6" font-size="9.2">10</text>
<text x="33.6" y="510.8" font-size="7">0</text>
<text x="49.8" y="514.6" font-size="9.2">10</text>
<text x="60.1" y="510.8" font-size="7">1</text>
<text x="76.7" y="514.6" font-size="9.2">10</text>
<text x="87" y="510.8" font-size="7">2</text>
<text x="102.7" y="514.6" font-size="9.2">10</text>
<text x="113" y="510.8" font-size="7">3</text>
<text x="124.8" y="514.6" font-size="9.2">10</text>
<text x="135.1" y="510.8" font-size="7">4</text>
<text transform="translate(20.9,467.75) rotate(-90) scale(0.8,1)" font-size="10.6" text-anchor="middle">Counts</text>
<polyline points="30.5,461 31.75,459.19 33,458.05 34,458.34 35,459.12 36,458.4 37,456.98 38,456.92 39,457.9 40,457.21 41,458.93 42,461.59 43,463.13 44,465.74 45,467.47 46,469.83 47,471.41 48,474.16 49,476.61 50,478.36 51,480.79 52,482.87 53,484.31 54,487.31 55,489.28 56,491.09 57,492.94 58,496.11 59,497.8 60,500" fill="none" stroke="#333" stroke-width="1.1" stroke-dasharray="1,1.6"/>
<polyline points="57.5,500 58.75,498.13 60,497.35 61,495.6 62,493.42 63,492 64,489.95 65,488.15 66,486.29 67,483.59 68,481.53 69,480.34 70,477.93 71,475.6 72,472.17 73,469.95 74,469.22 75,467.73 76,469.95 77,471.4 78,470.03 79,469.53 80,468.54 81,467.44 82,465.88 83,464.72 84,463.92 85,462.53 86,461.72 87,461.94 88,462 89,461.73 90,462.61 91,463.47 92,465.13 93,466.37 94,467.52 95,471 96,473.39 97,476.14 98,479.02 99,483.16 100,486.36 101,488.12 102,490.83 103,493.72 104,496.21 105.17,497.94 106.33,498.92 107.5,500.83 108.5,500.69 109.5,500.35 110.5,500.65 111.5,500.97 112.5,500.95 113.5,500.64 114.5,500.74 115.5,500.21 116.5,500.44 117.5,501.01 118.5,500.65 119.5,500.43 120.5,500.83 121.5,501.01 122.5,501 123.5,500.72 124.5,500.81 125.5,500.9 126.5,501.19 127.5,500.96 128.5,500.85 129.5,500.97 130.5,501" fill="none" stroke="#000" stroke-width="1"/>
<polyline points="30.5,501 31,487.73 32.5,489.72 33,499.29 34,499.34 35,500.54 36,500.38 37,499.9 38,498.94 39,499.04 40,498.67 41,498.5 42,497.7 43,498.01 44,497.83 45,498.61 46,499.29 47,499.47 48,499.07 49,499 50,498.8 51,498.51 52,498.58 53,499.36 54,499.21 55.17,499.14 56.33,499.79 57.5,499.04 58.75,497.1 60,494.58 61,492.57 62,491.39 63,489.42 64.12,488.14 65.25,487.05 66.38,484.65 67.5,481.99 68.67,480.3 69.83,477.31 71,474.38 72,472.4 73,469.92 74,467.71 75,464.77 76,464.77 77,463.74 78,461.46 79,462.91 80,463.34 81,461.69 82,460.55 83,460.73 84,461.68 85,462 86,463.53 87,462.27 88,462.61 89,464.14 90,464.94 91.25,467.61 92.5,470.67 93.75,474.36 95,477.98 96,480.89 97,484.39 98,488.32 99,490.97 100,495.65 101.25,497.13 102.5,500.66 103.67,500.03 104.83,501.4 106,501.33 107.02,501.01 108.04,501.03 109.06,501.24 110.08,501.14 111.1,500.7 112.12,500.53 113.15,501.02 114.17,501.69 115.19,501.2 116.21,500.32 117.23,501.51 118.25,501.36 119.27,501.65 120.29,500.51 121.31,501.39 122.33,500.29 123.35,501.24 124.38,500.64 125.4,500.56 126.42,501.6 127.44,500.37 128.46,501.04 129.48,501.57 130.5,501" fill="none" stroke="#000" stroke-width="2"/>
<text x="57" y="532" class="b hv" font-size="17">1 min</text>
<rect x="155.3" y="437.5" width="97.2" height="64.5" fill="none" stroke="#000" stroke-width="1"/>
<line x1="149.8" y1="502" x2="155.3" y2="502" stroke="#000" stroke-width="0.9"/>
<line x1="152.1" y1="497.15" x2="155.3" y2="497.15" stroke="#000" stroke-width="0.9"/>
<line x1="152.1" y1="494.31" x2="155.3" y2="494.31" stroke="#000" stroke-width="0.9"/>
<line x1="152.1" y1="492.29" x2="155.3" y2="492.29" stroke="#000" stroke-width="0.9"/>
<line x1="152.1" y1="490.73" x2="155.3" y2="490.73" stroke="#000" stroke-width="0.9"/>
<line x1="152.1" y1="489.45" x2="155.3" y2="489.45" stroke="#000" stroke-width="0.9"/>
<line x1="152.1" y1="488.37" x2="155.3" y2="488.37" stroke="#000" stroke-width="0.9"/>
<line x1="152.1" y1="487.44" x2="155.3" y2="487.44" stroke="#000" stroke-width="0.9"/>
<line x1="152.1" y1="486.61" x2="155.3" y2="486.61" stroke="#000" stroke-width="0.9"/>
<line x1="149.8" y1="485.88" x2="155.3" y2="485.88" stroke="#000" stroke-width="0.9"/>
<line x1="152.1" y1="481.02" x2="155.3" y2="481.02" stroke="#000" stroke-width="0.9"/>
<line x1="152.1" y1="478.18" x2="155.3" y2="478.18" stroke="#000" stroke-width="0.9"/>
<line x1="152.1" y1="476.17" x2="155.3" y2="476.17" stroke="#000" stroke-width="0.9"/>
<line x1="152.1" y1="474.6" x2="155.3" y2="474.6" stroke="#000" stroke-width="0.9"/>
<line x1="152.1" y1="473.33" x2="155.3" y2="473.33" stroke="#000" stroke-width="0.9"/>
<line x1="152.1" y1="472.25" x2="155.3" y2="472.25" stroke="#000" stroke-width="0.9"/>
<line x1="152.1" y1="471.31" x2="155.3" y2="471.31" stroke="#000" stroke-width="0.9"/>
<line x1="152.1" y1="470.49" x2="155.3" y2="470.49" stroke="#000" stroke-width="0.9"/>
<line x1="149.8" y1="469.75" x2="155.3" y2="469.75" stroke="#000" stroke-width="0.9"/>
<line x1="152.1" y1="464.9" x2="155.3" y2="464.9" stroke="#000" stroke-width="0.9"/>
<line x1="152.1" y1="462.06" x2="155.3" y2="462.06" stroke="#000" stroke-width="0.9"/>
<line x1="152.1" y1="460.04" x2="155.3" y2="460.04" stroke="#000" stroke-width="0.9"/>
<line x1="152.1" y1="458.48" x2="155.3" y2="458.48" stroke="#000" stroke-width="0.9"/>
<line x1="152.1" y1="457.2" x2="155.3" y2="457.2" stroke="#000" stroke-width="0.9"/>
<line x1="152.1" y1="456.12" x2="155.3" y2="456.12" stroke="#000" stroke-width="0.9"/>
<line x1="152.1" y1="455.19" x2="155.3" y2="455.19" stroke="#000" stroke-width="0.9"/>
<line x1="152.1" y1="454.36" x2="155.3" y2="454.36" stroke="#000" stroke-width="0.9"/>
<line x1="149.8" y1="453.62" x2="155.3" y2="453.62" stroke="#000" stroke-width="0.9"/>
<line x1="152.1" y1="448.77" x2="155.3" y2="448.77" stroke="#000" stroke-width="0.9"/>
<line x1="152.1" y1="445.93" x2="155.3" y2="445.93" stroke="#000" stroke-width="0.9"/>
<line x1="152.1" y1="443.92" x2="155.3" y2="443.92" stroke="#000" stroke-width="0.9"/>
<line x1="152.1" y1="442.35" x2="155.3" y2="442.35" stroke="#000" stroke-width="0.9"/>
<line x1="152.1" y1="441.08" x2="155.3" y2="441.08" stroke="#000" stroke-width="0.9"/>
<line x1="152.1" y1="440" x2="155.3" y2="440" stroke="#000" stroke-width="0.9"/>
<line x1="152.1" y1="439.06" x2="155.3" y2="439.06" stroke="#000" stroke-width="0.9"/>
<line x1="152.1" y1="438.24" x2="155.3" y2="438.24" stroke="#000" stroke-width="0.9"/>
<line x1="155.3" y1="502" x2="155.3" y2="505.5" stroke="#000" stroke-width="0.9"/>
<line x1="162.62" y1="502" x2="162.62" y2="504.2" stroke="#000" stroke-width="0.9"/>
<line x1="166.89" y1="502" x2="166.89" y2="504.2" stroke="#000" stroke-width="0.9"/>
<line x1="169.93" y1="502" x2="169.93" y2="504.2" stroke="#000" stroke-width="0.9"/>
<line x1="172.28" y1="502" x2="172.28" y2="504.2" stroke="#000" stroke-width="0.9"/>
<line x1="174.21" y1="502" x2="174.21" y2="504.2" stroke="#000" stroke-width="0.9"/>
<line x1="175.84" y1="502" x2="175.84" y2="504.2" stroke="#000" stroke-width="0.9"/>
<line x1="177.25" y1="502" x2="177.25" y2="504.2" stroke="#000" stroke-width="0.9"/>
<line x1="178.49" y1="502" x2="178.49" y2="504.2" stroke="#000" stroke-width="0.9"/>
<line x1="179.6" y1="502" x2="179.6" y2="505.5" stroke="#000" stroke-width="0.9"/>
<line x1="186.92" y1="502" x2="186.92" y2="504.2" stroke="#000" stroke-width="0.9"/>
<line x1="191.19" y1="502" x2="191.19" y2="504.2" stroke="#000" stroke-width="0.9"/>
<line x1="194.23" y1="502" x2="194.23" y2="504.2" stroke="#000" stroke-width="0.9"/>
<line x1="196.58" y1="502" x2="196.58" y2="504.2" stroke="#000" stroke-width="0.9"/>
<line x1="198.51" y1="502" x2="198.51" y2="504.2" stroke="#000" stroke-width="0.9"/>
<line x1="200.14" y1="502" x2="200.14" y2="504.2" stroke="#000" stroke-width="0.9"/>
<line x1="201.55" y1="502" x2="201.55" y2="504.2" stroke="#000" stroke-width="0.9"/>
<line x1="202.79" y1="502" x2="202.79" y2="504.2" stroke="#000" stroke-width="0.9"/>
<line x1="203.9" y1="502" x2="203.9" y2="505.5" stroke="#000" stroke-width="0.9"/>
<line x1="211.22" y1="502" x2="211.22" y2="504.2" stroke="#000" stroke-width="0.9"/>
<line x1="215.49" y1="502" x2="215.49" y2="504.2" stroke="#000" stroke-width="0.9"/>
<line x1="218.53" y1="502" x2="218.53" y2="504.2" stroke="#000" stroke-width="0.9"/>
<line x1="220.88" y1="502" x2="220.88" y2="504.2" stroke="#000" stroke-width="0.9"/>
<line x1="222.81" y1="502" x2="222.81" y2="504.2" stroke="#000" stroke-width="0.9"/>
<line x1="224.44" y1="502" x2="224.44" y2="504.2" stroke="#000" stroke-width="0.9"/>
<line x1="225.85" y1="502" x2="225.85" y2="504.2" stroke="#000" stroke-width="0.9"/>
<line x1="227.09" y1="502" x2="227.09" y2="504.2" stroke="#000" stroke-width="0.9"/>
<line x1="228.2" y1="502" x2="228.2" y2="505.5" stroke="#000" stroke-width="0.9"/>
<line x1="235.52" y1="502" x2="235.52" y2="504.2" stroke="#000" stroke-width="0.9"/>
<line x1="239.79" y1="502" x2="239.79" y2="504.2" stroke="#000" stroke-width="0.9"/>
<line x1="242.83" y1="502" x2="242.83" y2="504.2" stroke="#000" stroke-width="0.9"/>
<line x1="245.18" y1="502" x2="245.18" y2="504.2" stroke="#000" stroke-width="0.9"/>
<line x1="247.11" y1="502" x2="247.11" y2="504.2" stroke="#000" stroke-width="0.9"/>
<line x1="248.74" y1="502" x2="248.74" y2="504.2" stroke="#000" stroke-width="0.9"/>
<line x1="250.15" y1="502" x2="250.15" y2="504.2" stroke="#000" stroke-width="0.9"/>
<line x1="251.39" y1="502" x2="251.39" y2="504.2" stroke="#000" stroke-width="0.9"/>
<line x1="252.5" y1="502" x2="252.5" y2="505" stroke="#000" stroke-width="0.7"/>
<line x1="155.3" y1="437.5" x2="155.3" y2="502.5" stroke="#000" stroke-width="1.6"/>
<line x1="155.3" y1="502" x2="252.5" y2="502" stroke="#000" stroke-width="1.3"/>
<text x="146.5" y="514.6" font-size="9.2">10</text>
<text x="156.8" y="510.8" font-size="7">0</text>
<text x="172.4" y="514.6" font-size="9.2">10</text>
<text x="182.7" y="510.8" font-size="7">1</text>
<text x="196.7" y="514.6" font-size="9.2">10</text>
<text x="207" y="510.8" font-size="7">2</text>
<text x="222.3" y="514.6" font-size="9.2">10</text>
<text x="232.6" y="510.8" font-size="7">3</text>
<text x="243.8" y="514.6" font-size="9.2">10</text>
<text x="254.1" y="510.8" font-size="7">4</text>
<text transform="translate(146.8,467.75) rotate(-90) scale(0.8,1)" font-size="10.6" text-anchor="middle">Counts</text>
<polyline points="155.3,463.75 156.65,462.06 158,461.05 159,461.09 160,461.62 161.25,460.28 162.5,458.23 163.75,459.42 165,461.65 166.02,463.15 167.03,465.31 168.05,468.41 169.06,469.96 170.08,472.59 171.09,474.35 172.11,476.73 173.12,478.33 174.14,481.1 175.16,483.57 176.17,485.34 177.19,487.79 178.2,489.89 179.22,491.35 180.23,494.37 181.25,496.25" fill="none" stroke="#333" stroke-width="1.1" stroke-dasharray="1,1.6"/>
<polyline points="178,500 179.12,498.88 180.25,498.85 181.38,498.01 182.5,496.76 183.62,494.87 184.75,492.7 185.88,490.78 187,488.79 188,485.72 189,483.28 190,481.71 191,478.93 192,477.26 193,474.5 194,472.95 195,472.49 196,471.26 197,471.25 198,471.55 199,471.03 200,472.03 201,473.54 202,473.19 203,471.88 204,470.55 205,469.59 206,468.03 207,467.56 208,467.1 209,466.5 210,465.4 211,464.56 212,463.72 213,463.46 214,462.79 215,462.02 216.25,462.34 217.5,461.56 219,464.14 220.12,468.69 221.25,474.49 222.62,480.86 224,486.62 225.12,491.33 226.25,496.22 227.5,497.71 228.75,499.44 230,500.5" fill="none" stroke="#000" stroke-width="1"/>
<polyline points="155.3,501 156,489.73 157.5,490.72 158,499.29 159,499.34 160,500.54 161,500.38 162,500.27 163,499.69 164,500.17 165,500.17 166,500.08 167,499.35 168,499.74 169,499.63 170,500.11 171,500.49 172,500.37 173,499.67 174,499.46 175,499.13 176,498.66 177,498.54 178,499.14 179,498.81 180,498.81 181,499.23 182,498.24 183,497.9 184,496.98 185,496.24 186,495.97 187,494.92 188,494.77 189,494.8 190,493.53 191,491.99 192,491 193,488.72 194,486.5 195,484.65 196.25,481.42 197.5,478.46 198.75,474.77 199.83,474.1 200.92,472.41 202,469.46 203,469.57 204,468.68 205,467.44 206.25,465.05 207.5,462.48 208.75,460.68 209.88,457.5 211,455.53 212.5,454.02 214,455.61 215.12,458.14 216.25,459.94 217.5,465.11 218.75,470.67 220,475.36 221.25,480.81 222.5,486.22 223.75,492.22 225,494.49 226.25,495.3 227.5,498.15 228.62,497.75 229.75,499.41 230.88,499.07 232,500.73 233.03,500.35 234.05,500.06 235.07,500.1 236.1,500.34 237.12,500.27 238.15,499.85 239.18,499.71 240.2,500.22 241.22,500.92 242.25,500.45 243.28,499.6 244.3,500.81 245.32,500.69 246.35,501 247.38,499.88 248.4,500.79 249.43,499.72 250.45,500.69 251.47,500.11 252.5,500.5" fill="none" stroke="#000" stroke-width="2"/>
<text x="181.2" y="530.6" class="b hv" font-size="17">3 min</text>
</svg>
</body></html>
